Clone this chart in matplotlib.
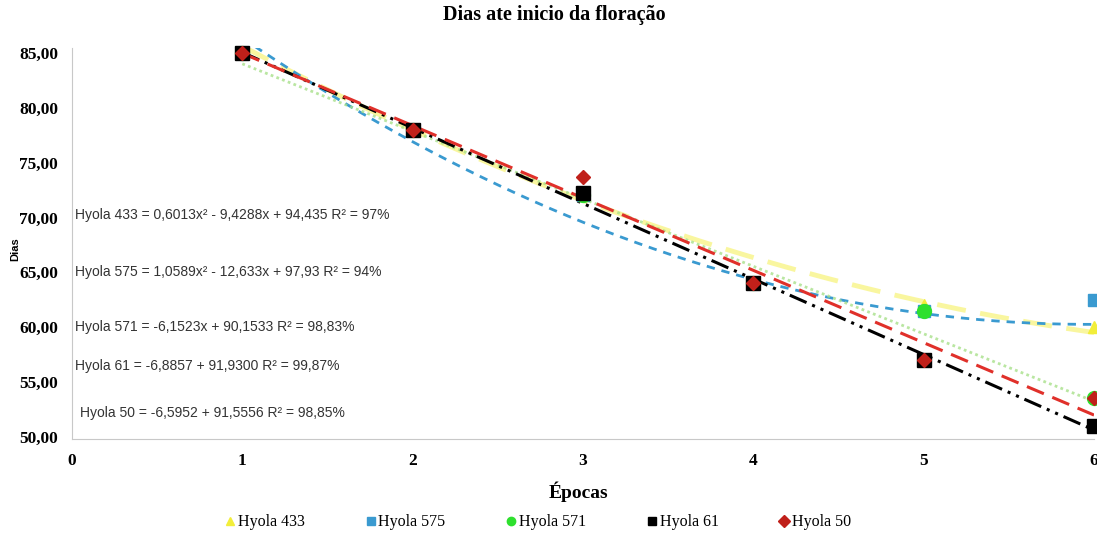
import numpy as np
import matplotlib
matplotlib.use('Agg')
import matplotlib.pyplot as plt
from matplotlib.lines import Line2D

# Dados
epocas = [1, 2, 3, 4, 5, 6]
h433 = [85, 78, 72, 64, 62, 60]
h575 = [85, 78, 72, 64, 61.5, 62.5]
h571 = [85, 78, 72, 64, 61.5, 53.5]
h61 = [85, 78, 72.2, 64, 57, 51]
h50 = [85, 78, 73.7, 64, 57, 53.5]

# coeficientes das linhas de tendência (como aparecem nas equações)
coef433 = [0.6013, -9.4288, 94.435]
coef575 = [1.0589, -12.633, 97.93]
coef571 = [-6.1523, 90.1533]
coef61 = [-6.8857, 91.9300]
coef50 = [-6.5952, 91.5556]

nomes = ['Hyola 433', 'Hyola 575', 'Hyola 571', 'Hyola 61', 'Hyola 50']
equacoes = [
    'Hyola 433 = 0,6013x² - 9,4288x + 94,435 R² = 97%',
    'Hyola 575 = 1,0589x² - 12,633x + 97,93 R² = 94%',
    'Hyola 571 = -6,1523x + 90,1533 R² = 98,83%',
    'Hyola 61 = -6,8857 + 91,9300 R² = 99,87%',
    'Hyola 50 = -6,5952 + 91,5556 R² = 98,85%',
]
yticks = [50, 55, 60, 65, 70, 75, 80, 85]

series = [h433, h575, h571, h61, h50]
coefs = [coef433, coef575, coef571, coef61, coef50]
cores = ['#F5F050', '#3A9AD0', '#A8E08A', '#000000', '#E0302A']
marcas = ['^', 's', 'o', 's', 'D']
cor_marca = ['#F2EE3A', '#3A9AD0', '#2EE02E', '#000000', '#C0201A']
tam_marca = [8, 8, 10, 10, 7]
tracos = [(6, 3), (3, 2.5), (1, 1.2), (6, 2, 1, 2, 1, 2), (6, 3)]
larg = [3.5, 2.0, 2.0, 2.2, 2.2]
alfa = [0.55, 1, 0.8, 1, 1]

fig = plt.figure(figsize=(10.97, 5.35), dpi=100)
ax = fig.add_axes([0.0656, 0.1794, 0.9317, 0.730])

xx = np.linspace(1, 6, 200)
for i in range(5):
    ax.plot(xx, np.polyval(coefs[i], xx), color=cores[i], lw=larg[i],
            dashes=tracos[i], alpha=alfa[i], zorder=2)

for i, y in enumerate(series):
    ax.plot(epocas, y, ls='none', marker=marcas[i], ms=tam_marca[i],
            color=cor_marca[i], mec=cor_marca[i], zorder=3, clip_on=False)

# equações das linhas de tendência
pos_eq = [(0.02, 70.2), (0.02, 65.0), (0.02, 60.0), (0.02, 56.5), (0.05, 52.2)]
for (px, py), eq in zip(pos_eq, equacoes):
    ax.text(px, py, eq, fontsize=10, family='Liberation Sans', color='#333333',
            va='center', ha='left')

ax.set_xlim(0, 6)
ax.set_ylim(49.8, 85.4)
ax.set_yticks(yticks)
ax.set_yticklabels([f'{v:.2f}'.replace('.', ',') for v in yticks],
                   family='Liberation Serif', fontweight='bold', fontsize=12.5)
ax.set_xticks(range(7))
ax.set_xticklabels([str(v) for v in range(7)], family='Liberation Serif',
                   fontweight='bold', fontsize=12.5)
ax.tick_params(length=0, pad=10)
for s in ['top', 'right']:
    ax.spines[s].set_visible(False)
for s in ['left', 'bottom']:
    ax.spines[s].set_color('#C8C8C8')

fig.text(0.505, 0.972, 'Dias ate inicio da floração', ha='center', va='center',
         family='Liberation Serif', fontweight='bold', fontsize=14.5)
fig.text(0.527, 0.080, 'Épocas', ha='center', va='center',
         family='Liberation Serif', fontweight='bold', fontsize=14)
fig.text(0.014, 0.535, 'Dias', rotation=90, ha='center', va='center',
         family='Liberation Sans', fontweight='bold', fontsize=8)

handles = [Line2D([], [], ls='none', marker=marcas[i], ms=6, color=cor_marca[i])
           for i in range(5)]
fig.legend(handles, nomes, loc='center', bbox_to_anchor=(0.49, 0.024), ncol=5,
           frameon=False, prop={'family': 'Liberation Serif', 'size': 11.5},
           handletextpad=0.1, columnspacing=3.7, handlelength=0.8)

fig.savefig('out.png', dpi=100)
